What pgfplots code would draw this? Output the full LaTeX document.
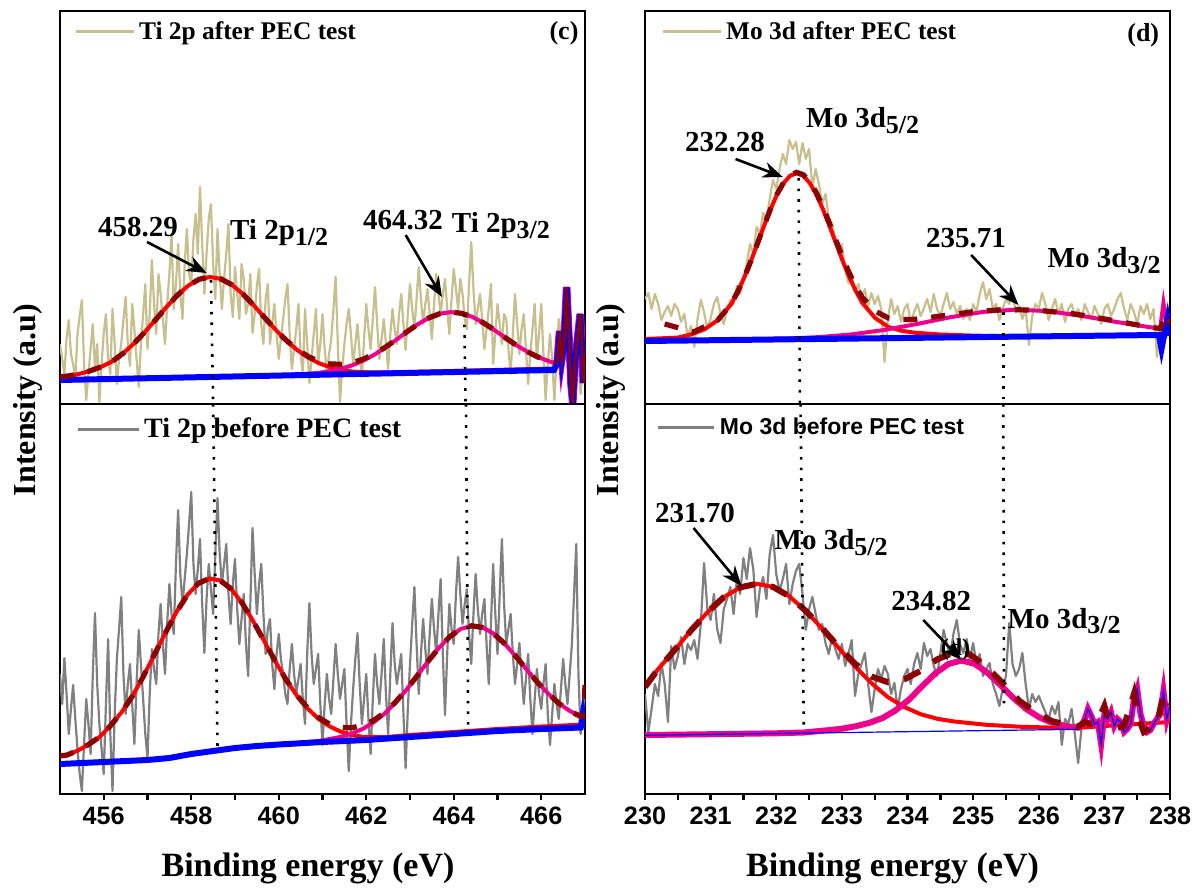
\documentclass[border=0pt]{standalone}
\usepackage{fontspec}
\setmainfont{Liberation Serif}
\newfontfamily\arialf{Liberation Sans}
\usepackage{pgfplots}
\pgfplotsset{compat=1.18}
\usetikzlibrary{arrows.meta}
\definecolor{khaki}{RGB}{199,191,141}
\definecolor{rawgray}{RGB}{128,128,128}
\definecolor{envred}{RGB}{139,0,0}
\newcommand{\ann}{\fontsize{14.5}{16}\selectfont\bfseries}
\newcommand{\sub}[1]{\raisebox{-0.45ex}{\fontsize{13}{14}\selectfont #1}}
\pgfplotsset{
  panel/.style={scale only axis, width=262.5pt, anchor=south west,
    axis line style={line width=1.4pt}, ytick=\empty, ymin=0,
    tick style={line width=1.2pt, black}, major tick length=3pt, minor tick length=3pt,
    tick align=outside, xtick pos=left,
    /pgf/number format/assume math mode=true,
    xticklabel style={font=\fontsize{12.6}{14}\selectfont\arialf\bfseries},
    legend style={draw=none, fill=none, inner sep=0pt, anchor=north west, legend cell align=left},
    legend image code/.code={\draw[##1, line width=1.5pt] (0pt,0pt) -- (29pt,0pt);},
  },
  rawK/.style={color=khaki, line width=1.1pt, line join=round},
  rawG/.style={color=rawgray, line width=1.1pt, line join=round},
  redfit/.style={color=red, line width=2pt, forget plot},
  magfit/.style={color=magenta, line width=2pt, forget plot},
  bluebase/.style={color=blue, line width=3pt, forget plot},
  env/.style={color=envred, line width=2.6pt, dash pattern=on 7pt off 7pt, forget plot},
}
\tikzset{
  dotl/.style={line width=1.3pt, dash pattern=on 1.3pt off 4pt},
  arr/.style={line width=1.3pt, -{Stealth[length=10pt,width=8pt]}},
  annn/.style={font=\ann, inner sep=0pt},
}
\begin{document}
\begin{tikzpicture}
\useasboundingbox (0,0) rectangle (599pt,447.5pt);

%================ TOP LEFT =================
\begin{axis}[panel, at={(30pt,245.5pt)}, height=196.5pt, xmin=455, xmax=467, ymax=393, xtick=\empty,
  legend style={at={(0.026,0.985)}, font=\fontsize{12.7}{14}\selectfont\bfseries}]
\addplot[rawK] coordinates {(455.00,60) (455.05,45) (455.10,30) (455.15,65) (455.20,84) (455.25,50) (455.30,40) (455.35,25) (455.40,70) (455.45,88) (455.50,104) (455.55,40) (455.60,4) (455.65,30) (455.70,55) (455.75,80) (455.80,35) (455.85,60) (455.90,2) (455.95,40) (456.00,71) (456.05,90) (456.10,45) (456.15,30) (456.20,95) (456.25,60) (456.30,20) (456.35,45) (456.40,60) (456.45,85) (456.50,107) (456.55,60) (456.60,38) (456.65,100) (456.70,75) (456.75,45) (456.80,17) (456.85,60) (456.90,90) (456.95,120) (457.00,55) (457.05,90) (457.10,144) (457.15,100) (457.20,70) (457.25,130) (457.30,110) (457.35,85) (457.40,60) (457.45,100) (457.50,130) (457.55,170) (457.60,95) (457.65,120) (457.70,160) (457.75,110) (457.80,85) (457.85,140) (457.90,175) (457.95,130) (458.00,120) (458.05,165) (458.10,190) (458.15,150) (458.20,217) (458.25,160) (458.30,110) (458.35,150) (458.40,185) (458.45,200) (458.50,140) (458.55,105) (458.60,175) (458.65,130) (458.70,95) (458.75,125) (458.80,150) (458.85,180) (458.90,110) (458.95,87) (459.00,137) (459.05,110) (459.10,85) (459.15,140) (459.20,125) (459.25,90) (459.30,100) (459.35,130) (459.40,71) (459.45,90) (459.50,118) (459.55,135) (459.60,80) (459.65,60) (459.70,105) (459.75,120) (459.80,60) (459.85,80) (459.90,100) (459.95,70) (460.00,45) (460.05,65) (460.10,85) (460.15,105) (460.20,120) (460.25,70) (460.30,35) (460.35,55) (460.40,75) (460.45,100) (460.50,50) (460.55,30) (460.60,95) (460.65,60) (460.70,21) (460.75,45) (460.80,70) (460.85,95) (460.90,40) (460.95,60) (461.00,90) (461.05,55) (461.10,30) (461.15,50) (461.20,65) (461.25,95) (461.30,127) (461.35,60) (461.40,2) (461.45,35) (461.50,60) (461.55,80) (461.60,95) (461.65,70) (461.70,40) (461.75,60) (461.80,80) (461.85,50) (461.90,27) (461.95,65) (462.00,100) (462.05,75) (462.10,55) (462.15,85) (462.20,117) (462.25,80) (462.30,45) (462.35,65) (462.40,85) (462.45,60) (462.50,35) (462.55,70) (462.60,95) (462.65,75) (462.70,60) (462.75,90) (462.80,110) (462.85,80) (462.90,54) (462.95,90) (463.00,120) (463.05,95) (463.10,75) (463.15,105) (463.20,137) (463.25,105) (463.30,80) (463.35,100) (463.40,115) (463.45,90) (463.50,65) (463.55,100) (463.60,130) (463.65,110) (463.70,90) (463.75,110) (463.80,125) (463.85,95) (463.90,70) (463.95,105) (464.00,135) (464.05,115) (464.10,95) (464.15,125) (464.20,110) (464.25,85) (464.30,75) (464.35,120) (464.40,162) (464.45,115) (464.50,80) (464.55,95) (464.60,110) (464.65,85) (464.70,55) (464.75,75) (464.80,95) (464.85,120) (464.90,40) (464.95,70) (465.00,100) (465.05,80) (465.10,60) (465.15,90) (465.20,85) (465.25,55) (465.30,30) (465.35,70) (465.40,110) (465.45,80) (465.50,50) (465.55,75) (465.60,90) (465.65,55) (465.70,20) (465.75,50) (465.80,75) (465.85,100) (465.90,45) (465.95,70) (466.00,100) (466.05,50) (466.10,4) (466.15,40) (466.20,70) (466.25,45) (466.30,4) (466.35,45) (466.40,85) (466.45,70) (466.50,50) (466.55,80) (466.60,95) (466.65,60) (466.70,30) (466.75,55) (466.80,75) (466.85,40) (466.90,10) (466.95,35) (467.00,60)};
\addlegendentry{Ti 2p after PEC test}
\addplot[redfit] coordinates {(455.00,27) (455.18,28) (455.43,30) (455.68,33) (455.93,37) (456.18,42.2) (456.43,50.2) (456.68,60) (456.93,71.5) (457.18,84) (457.43,96.8) (457.68,108.7) (457.93,118.3) (458.18,124.7) (458.43,127) (458.68,125.1) (458.93,119.2) (459.18,110) (459.43,98.6) (459.68,86.2) (459.93,74.2) (460.18,63.1) (460.43,53.7) (460.68,46.2) (460.93,40.6) (461.18,36.7) (461.43,34.1) (461.68,32.5) (461.93,31.8) (462.43,31.5) (464,33) (466.3,35.5)};
\addplot[magfit] coordinates {(455,24) (458,26.7) (460.43,29.4) (460.93,31.2) (461.18,32.9) (461.43,35.3) (461.68,38.7) (461.93,43.4) (462.18,49.2) (462.43,56.2) (462.68,64) (462.93,72.1) (463.18,79.8) (463.43,86.1) (463.68,90.3) (463.93,91.9) (464.18,90.7) (464.43,87) (464.68,81.1) (464.93,73.9) (465.18,66.2) (465.43,58.8) (465.68,52.3) (465.93,46.9) (466.18,42.7) (466.3,41)};
\addplot[color=magenta, line width=3.8pt, forget plot] coordinates {(466.36,40) (466.42,73) (466.47,45) (466.52,60) (466.58,117) (466.63,70) (466.68,20) (466.72,1) (466.77,40) (466.84,70) (466.89,90) (466.93,60) (466.96,21) (467,50)};
\addplot[bluebase] coordinates {(455,24) (466.29,34) (466.36,40) (466.42,73) (466.47,45) (466.52,60) (466.58,117) (466.63,70) (466.68,20) (466.72,1) (466.77,40) (466.84,70) (466.89,90) (466.93,60) (466.96,21) (467,50)};
\addplot[color=envred, line width=1.4pt, forget plot] coordinates {(466.36,40) (466.42,73) (466.47,45) (466.52,60) (466.58,117) (466.63,70) (466.68,20) (466.72,1) (466.77,40) (466.84,70) (466.89,90) (466.93,60) (466.96,21) (467,50)};
\addplot[env] coordinates {(455,27) (455.18,28) (455.43,30) (455.68,33) (455.93,37) (456.18,42.2) (456.43,50.2) (456.68,60) (456.93,71.5) (457.18,84) (457.43,96.8) (457.68,108.7) (457.93,118.3) (458.18,124.7) (458.43,127) (458.68,125.1) (458.93,119.2) (459.18,110) (459.43,98.6) (459.68,86.2) (459.93,74.2) (460.18,63.3) (460.43,54.3) (460.68,47.3) (460.93,42.6) (461.18,40.1) (461.43,39.7) (461.68,41.3) (461.93,44.8) (462.18,50) (462.43,56.6) (462.68,64.2) (462.93,72.2) (463.18,79.8) (463.43,86.1) (463.68,90.3) (463.93,91.9) (464.18,90.7) (464.43,87) (464.68,81.1) (464.93,73.9) (465.18,66.2) (465.43,58.8) (465.68,52.3) (465.93,46.9) (466.18,42.7) (466.3,41)};
\draw[dotl] (axis cs:458.45,124) -- (axis cs:458.5,0);
\draw[dotl] (axis cs:464.24,90) -- (axis cs:464.27,0);
\node[annn, anchor=base] at (axis cs:456.78,167) {458.29};
\node[annn, anchor=base west] at (axis cs:458.88,164) {Ti 2p\sub{1/2}};
\draw[arr] (axis cs:456.99,162) -- (axis cs:458.35,131);
\node[annn, anchor=base] at (axis cs:462.84,174) {464.32};
\node[annn, anchor=base west] at (axis cs:463.95,171) {Ti 2p\sub{3/2}};
\draw[arr] (axis cs:462.9,169) -- (axis cs:463.73,107);
\node[font=\fontsize{13}{14}\selectfont\bfseries] at (rel axis cs:0.96,0.944) {(c)};
\end{axis}

%================ BOTTOM LEFT =================
\begin{axis}[panel, at={(30pt,50.5pt)}, height=195pt, xmin=455, xmax=467, ymax=390,
  xtick={456,458,...,466}, minor x tick num=1,
  legend style={at={(0.03,0.975)}, font=\fontsize{14}{15}\selectfont\bfseries},
  legend image code/.code={\draw[#1, line width=1.5pt] (0pt,0pt) -- (30.5pt,0pt);}]
\addplot[rawG] coordinates {(455.00,120) (455.05,90) (455.10,136) (455.15,100) (455.20,60) (455.25,85) (455.30,109) (455.35,75) (455.40,45) (455.45,20) (455.50,3) (455.55,50) (455.60,95) (455.65,70) (455.70,40) (455.75,120) (455.80,181) (455.85,110) (455.90,70) (455.95,45) (456.00,20) (456.05,90) (456.10,155) (456.15,60) (456.20,3) (456.25,80) (456.30,135) (456.35,165) (456.40,197) (456.45,120) (456.50,80) (456.55,110) (456.60,130) (456.65,90) (456.70,50) (456.75,110) (456.80,164) (456.85,130) (456.90,95) (456.95,60) (457.00,36) (457.05,100) (457.10,145) (457.15,125) (457.20,110) (457.25,160) (457.30,190) (457.35,150) (457.40,120) (457.45,170) (457.50,210) (457.55,180) (457.60,160) (457.65,230) (457.70,284) (457.75,220) (457.80,190) (457.85,215) (457.90,240) (457.95,270) (458.00,302) (458.05,230) (458.10,200) (458.15,225) (458.20,255) (458.25,190) (458.30,141) (458.35,195) (458.40,230) (458.45,205) (458.50,180) (458.55,240) (458.60,296) (458.65,240) (458.70,210) (458.75,230) (458.80,250) (458.85,200) (458.90,170) (458.95,210) (459.00,235) (459.05,185) (459.10,150) (459.15,175) (459.20,200) (459.25,150) (459.30,118) (459.35,190) (459.40,266) (459.45,220) (459.50,180) (459.55,210) (459.60,230) (459.65,180) (459.70,140) (459.75,165) (459.80,175) (459.85,130) (459.90,105) (459.95,140) (460.00,160) (460.05,135) (460.10,120) (460.15,100) (460.20,90) (460.25,125) (460.30,150) (460.35,120) (460.40,100) (460.45,115) (460.50,130) (460.55,95) (460.60,70) (460.65,140) (460.70,191) (460.75,140) (460.80,110) (460.85,125) (460.90,140) (460.95,90) (461.00,49) (461.05,90) (461.10,120) (461.15,95) (461.20,80) (461.25,115) (461.30,150) (461.35,120) (461.40,95) (461.45,110) (461.50,125) (461.55,70) (461.60,23) (461.65,70) (461.70,105) (461.75,135) (461.80,161) (461.85,110) (461.90,70) (461.95,95) (462.00,120) (462.05,75) (462.10,40) (462.15,95) (462.20,140) (462.25,110) (462.30,90) (462.35,120) (462.40,155) (462.45,100) (462.50,60) (462.55,120) (462.60,171) (462.65,130) (462.70,110) (462.75,125) (462.80,140) (462.85,80) (462.90,26) (462.95,85) (463.00,130) (463.05,170) (463.10,207) (463.15,150) (463.20,100) (463.25,140) (463.30,175) (463.35,145) (463.40,120) (463.45,160) (463.50,195) (463.55,165) (463.60,140) (463.65,180) (463.70,215) (463.75,140) (463.80,79) (463.85,140) (463.90,190) (463.95,165) (464.00,150) (464.05,200) (464.10,237) (464.15,200) (464.20,170) (464.25,190) (464.30,205) (464.35,160) (464.40,130) (464.45,180) (464.50,220) (464.55,185) (464.60,160) (464.65,180) (464.70,195) (464.75,150) (464.80,110) (464.85,170) (464.90,230) (464.95,180) (465.00,140) (465.05,200) (465.10,255) (465.15,190) (465.20,150) (465.25,165) (465.30,180) (465.35,140) (465.40,110) (465.45,130) (465.50,151) (465.55,120) (465.60,90) (465.65,115) (465.70,140) (465.75,95) (465.80,60) (465.85,95) (465.90,125) (465.95,100) (466.00,85) (466.05,110) (466.10,130) (466.15,80) (466.20,49) (466.25,80) (466.30,110) (466.35,90) (466.40,75) (466.45,105) (466.50,135) (466.55,110) (466.60,90) (466.65,120) (466.70,150) (466.75,200) (466.80,250) (466.85,120) (466.90,60) (466.95,80) (467.00,100)};
\addlegendentry{Ti 2p before PEC test}
\addplot[redfit] coordinates {(455,38) (455.16,39) (455.41,43.5) (455.66,49.7) (455.91,57.2) (456.16,68.6) (456.41,81.9) (456.66,98.2) (456.91,118) (457.16,139.6) (457.41,161.2) (457.66,181.8) (457.91,199) (458.16,210.6) (458.41,215.5) (458.66,213.6) (458.91,205.2) (459.16,191.1) (459.41,173.2) (459.66,153.5) (459.91,133.5) (460.16,114.8) (460.41,98.6) (460.66,85.5) (460.91,75.2) (461.16,67.7) (461.41,62.5) (461.66,59.2) (461.91,57.2) (462.41,56.8) (463,59) (464,62) (465,65) (466,67.5) (467,69.5)};
\addplot[magfit] coordinates {(455,30) (456,32) (457,34) (457.5,36) (458,40) (458.5,43) (459,46) (459.5,48) (460,49.5) (460.41,50.8) (460.91,53) (461.41,57) (461.66,60.4) (461.91,64.9) (462.16,71.4) (462.41,80) (462.66,91) (462.91,103.8) (463.16,118) (463.41,132.5) (463.66,146.1) (463.91,157.4) (464.16,165.1) (464.41,168.2) (464.66,166.6) (464.91,160.4) (465.16,150.4) (465.41,138.1) (465.66,124.8) (465.91,111.9) (466.16,100.3) (466.41,90.4) (466.66,82.9) (466.91,77.3) (467,75.5)};
\addplot[bluebase] coordinates {(455,30) (456,32) (457,34) (457.5,36) (458,40) (458.5,43) (459,46) (459.5,48) (460,49.5) (461,52) (462,54) (463,57) (464,60) (465,63) (466,65) (466.9,66.5) (466.95,80) (467,66)};
\addplot[env] coordinates {(455,38) (455.16,39) (455.41,43.5) (455.66,49.7) (455.91,57.2) (456.16,68.6) (456.41,81.9) (456.66,98.2) (456.91,118) (457.16,139.6) (457.41,161.2) (457.66,181.8) (457.91,199) (458.16,210.6) (458.41,215.5) (458.66,213.6) (458.91,205.2) (459.16,191.1) (459.41,173.2) (459.66,153.5) (459.91,133.5) (460.16,114.8) (460.41,98.9) (460.66,86.1) (460.91,76.4) (461.16,70) (461.41,66.5) (461.66,66.3) (461.91,68.3) (462.16,73.4) (462.41,81) (462.66,91.5) (462.91,104) (463.16,118) (463.41,132.5) (463.66,146.1) (463.91,157.4) (464.16,165.1) (464.41,168.2) (464.66,166.6) (464.91,160.4) (465.16,150.4) (465.41,138.1) (465.66,124.8) (465.91,111.9) (466.16,100.3) (466.41,90.4) (466.66,82.9) (466.91,77.3) (466.97,78) (467,109)};
\draw[dotl] (axis cs:458.5,390) -- (axis cs:458.6,46);
\draw[dotl] (axis cs:464.28,390) -- (axis cs:464.33,61);
\end{axis}

%================ TOP RIGHT =================
\begin{axis}[panel, at={(322.5pt,245.5pt)}, height=196.5pt, xmin=230, xmax=238, ymax=393, xtick=\empty,
  legend style={at={(0.03,0.985)}, font=\fontsize{12.7}{14}\selectfont\bfseries}]
\addplot[rawK] coordinates {(230.00,105) (230.05,111) (230.10,95) (230.15,110) (230.20,100) (230.25,84) (230.30,92) (230.35,98) (230.40,88) (230.45,100) (230.50,95) (230.55,82) (230.60,90) (230.65,67) (230.70,78) (230.75,57) (230.80,85) (230.85,104) (230.90,92) (230.95,75) (231.00,86) (231.05,100) (231.10,107) (231.15,90) (231.20,80) (231.25,95) (231.30,104) (231.35,100) (231.40,118) (231.45,110) (231.50,124) (231.55,140) (231.60,160) (231.65,150) (231.70,177) (231.75,170) (231.80,191) (231.85,185) (231.90,205) (231.95,224) (232.00,215) (232.05,235) (232.10,250) (232.15,240) (232.20,264) (232.25,255) (232.30,262) (232.35,240) (232.40,261) (232.45,245) (232.50,255) (232.55,217) (232.60,235) (232.65,220) (232.70,200) (232.75,210) (232.80,187) (232.85,180) (232.90,165) (232.95,150) (233.00,160) (233.05,135) (233.10,121) (233.15,130) (233.20,112) (233.25,120) (233.30,105) (233.35,115) (233.40,98) (233.45,111) (233.50,100) (233.55,108) (233.60,95) (233.65,42) (233.70,85) (233.75,105) (233.80,90) (233.85,98) (233.90,82) (233.95,95) (234.00,100) (234.05,81) (234.10,92) (234.15,100) (234.20,88) (234.25,96) (234.30,105) (234.35,92) (234.40,110) (234.45,95) (234.50,88) (234.55,100) (234.60,111) (234.65,95) (234.70,102) (234.75,90) (234.80,98) (234.85,85) (234.90,95) (234.95,84) (235.00,100) (235.05,92) (235.10,110) (235.15,122) (235.20,105) (235.25,115) (235.30,95) (235.35,100) (235.40,84) (235.45,95) (235.50,105) (235.55,100) (235.60,110) (235.65,92) (235.70,98) (235.75,85) (235.80,95) (235.85,59) (235.90,88) (235.95,100) (236.00,95) (236.05,111) (236.10,100) (236.15,84) (236.20,95) (236.25,105) (236.30,90) (236.35,100) (236.40,82) (236.45,95) (236.50,100) (236.55,88) (236.60,95) (236.65,84) (236.70,100) (236.75,92) (236.80,85) (236.85,98) (236.90,90) (236.95,80) (237.00,95) (237.05,100) (237.10,88) (237.15,95) (237.20,105) (237.25,111) (237.30,95) (237.35,84) (237.40,100) (237.45,92) (237.50,80) (237.55,98) (237.60,90) (237.65,100) (237.70,85) (237.75,95) (237.80,47) (237.85,80) (237.90,95) (237.95,85) (238.00,90)};
\addlegendentry{Mo 3d after PEC test}
\addplot[redfit] coordinates {(230,65) (230.5,66.4) (230.71,69.7) (230.91,74.8) (231.11,84) (231.31,99.6) (231.41,111.9) (231.51,126.2) (231.61,142.3) (231.71,159.7) (231.81,177.4) (231.91,194.3) (232.01,209.2) (232.11,220.7) (232.21,228.2) (232.31,230.8) (232.41,228.4) (232.51,221) (232.61,209.6) (232.71,194.9) (232.81,178.2) (232.91,160.7) (233.01,143.4) (233.11,127.4) (233.21,113.3) (233.31,101.2) (233.51,85.8) (233.71,77) (233.91,73.2) (234.11,71.3) (234.5,69.5) (235,68.4) (235.5,67.8) (236.5,68.3) (237.85,69.5)};
\addplot[magfit] coordinates {(230,63.5) (231.15,64) (232.15,65.4) (232.65,66.9) (233.15,69.6) (233.65,74.1) (234.15,80.1) (234.65,86.7) (235.15,92.1) (235.65,94.4) (236.15,92.8) (236.65,88.2) (237.15,82.4) (237.65,77.2) (237.85,75.4) (237.9,101) (237.95,80) (238,70)};
\addplot[bluebase] coordinates {(230,63) (237.83,69) (237.87,55) (237.92,72) (237.96,85) (238,68)};
\addplot[env] coordinates {(230.3,80) (230.74,72) (231.11,84) (231.31,99.7) (231.41,112) (231.51,126.3) (231.61,142.4) (231.71,159.9) (231.81,177.6) (231.91,194.6) (232.01,209.7) (232.11,221.3) (232.21,228.9) (232.31,231.6) (232.41,229.3) (232.51,222.5) (232.61,211.3) (232.71,197) (232.81,180.7) (232.91,163.6) (233.01,146.8) (233.11,131.3) (233.21,117.8) (233.31,106.6) (233.51,92.8) (233.71,85.9) (233.91,84.4) (234.11,84.7) (234.5,87.9) (235,92.3) (235.5,94.6) (236,93.6) (236.5,90.5) (237,85.1) (237.5,79.1) (237.85,75.4) (237.95,90) (238,80)};
\draw[dotl] (axis cs:232.34,226) -- (axis cs:232.36,0);
\draw[dotl] (axis cs:235.46,92) -- (axis cs:235.46,0);
\node[annn, anchor=base] at (axis cs:231.22,252) {232.28};
\node[annn, anchor=base west] at (axis cs:232.45,276) {Mo 3d\sub{5/2}};
\draw[arr] (axis cs:231.38,245) -- (axis cs:232.1,227);
\node[annn, anchor=base] at (axis cs:234.89,156) {235.71};
\node[annn, anchor=base west] at (axis cs:236.13,136) {Mo 3d\sub{3/2}};
\draw[arr] (axis cs:234.97,149) -- (axis cs:235.69,99);
\node[font=\fontsize{13}{14}\selectfont\bfseries] at (rel axis cs:0.949,0.939) {(d)};
\end{axis}

%================ BOTTOM RIGHT =================
\begin{axis}[panel, at={(322.5pt,50.5pt)}, height=195pt, xmin=230, xmax=238, ymax=390,
  xtick={230,...,238}, minor x tick num=1,
  legend style={at={(0.022,0.975)}, font=\fontsize{11.5}{13}\selectfont\arialf\bfseries},
  legend image code/.code={\draw[#1, line width=1.5pt] (0pt,0pt) -- (28pt,0pt);}]
\addplot[rawG] coordinates {(230.00,100) (230.05,62) (230.10,85) (230.15,110) (230.20,98) (230.25,131) (230.30,110) (230.35,72) (230.40,148) (230.45,125) (230.50,138) (230.55,157) (230.60,130) (230.65,150) (230.70,144) (230.75,154) (230.80,135) (230.85,170) (230.90,231) (230.95,185) (231.00,174) (231.05,200) (231.10,165) (231.15,151) (231.20,185) (231.25,195) (231.30,207) (231.35,180) (231.40,215) (231.45,200) (231.50,236) (231.55,215) (231.60,246) (231.65,225) (231.70,177) (231.75,205) (231.80,217) (231.85,195) (231.90,240) (231.95,259) (232.00,220) (232.05,203) (232.10,215) (232.15,230) (232.20,190) (232.25,210) (232.30,223) (232.35,230) (232.40,200) (232.45,164) (232.50,185) (232.55,197) (232.60,180) (232.65,164) (232.70,170) (232.75,151) (232.80,140) (232.85,157) (232.90,145) (232.95,135) (233.00,150) (233.05,128) (233.10,140) (233.15,154) (233.20,98) (233.25,120) (233.30,130) (233.35,141) (233.40,110) (233.45,82) (233.50,105) (233.55,125) (233.60,115) (233.65,128) (233.70,120) (233.75,100) (233.80,111) (233.85,85) (233.90,105) (233.95,118) (234.00,125) (234.05,110) (234.10,130) (234.15,141) (234.20,125) (234.25,151) (234.30,138) (234.35,145) (234.40,128) (234.45,118) (234.50,140) (234.55,164) (234.60,150) (234.65,138) (234.70,160) (234.75,174) (234.80,150) (234.85,141) (234.90,155) (234.95,135) (235.00,151) (235.05,130) (235.10,140) (235.15,118) (235.20,125) (235.25,131) (235.30,110) (235.35,100) (235.40,88) (235.45,105) (235.50,118) (235.55,171) (235.60,130) (235.65,118) (235.70,125) (235.75,141) (235.80,110) (235.85,85) (235.90,100) (235.95,92) (236.00,98) (236.05,90) (236.10,82) (236.15,75) (236.20,88) (236.25,80) (236.30,92) (236.35,49) (236.40,75) (236.45,70) (236.50,85) (236.55,60) (236.60,31) (236.65,65) (236.70,72)};
\addlegendentry{Mo 3d before PEC test}
\addplot[redfit] coordinates {(230,109) (230.2,124.9) (230.45,143.9) (230.7,163.4) (230.95,181.7) (231.2,196.8) (231.45,206.6) (231.7,210.2) (231.95,207.1) (232.2,197.7) (232.45,183) (232.7,165.3) (232.95,146.2) (233.2,127.6) (233.45,110.9) (233.7,96.9) (233.95,87) (234.2,79.8) (234.45,75.3) (234.7,72.6) (235.2,69.2) (235.7,67.3) (236.2,66.4) (236.6,66.2) (237,68) (237.5,70) (238,72)};
\addplot[color=magenta, line width=3pt, forget plot] coordinates {(230,59) (231,59.8) (232,60.7) (232.42,61.5) (232.82,64) (233.02,65.5) (233.22,67.9) (233.42,71.2) (233.62,76) (233.82,83.7) (234.02,94.2) (234.22,107.6) (234.42,120.4) (234.62,129.9) (234.82,133.5) (235.02,130.3) (235.22,121.2) (235.42,108.6) (235.62,95.6) (235.82,84.5) (236.02,76.2) (236.22,70.8) (236.42,67.8) (236.6,66.3) (236.65,68) (236.7,75) (236.75,85) (236.8,78) (236.85,70) (236.9,72) (236.95,50) (237.0,80) (237.05,75) (237.1,82) (237.15,68) (237.2,75) (237.25,72) (237.3,62) (237.35,65) (237.4,70) (237.45,95) (237.5,105) (237.55,80) (237.6,68) (237.65,62) (237.7,64) (237.75,70) (237.8,75) (237.85,80) (237.9,103) (237.95,75) (238,88)};
\addplot[color=blue, line width=0.6pt, forget plot] coordinates {(230,58.7) (236.6,64.7) (236.65,68) (236.7,75) (236.75,85) (236.8,78) (236.85,70) (236.9,72) (236.95,50) (237.0,80) (237.05,75) (237.1,82) (237.15,68) (237.2,75) (237.25,72) (237.3,62) (237.35,65) (237.4,70) (237.45,95) (237.5,105) (237.55,80) (237.6,68) (237.65,62) (237.7,64) (237.75,70) (237.8,75) (237.85,80) (237.9,103) (237.95,75) (238,88)};
\addplot[env, line width=3pt, dash pattern=on 9pt off 8pt] coordinates {(230,107) (230.2,124.9) (230.45,143.9) (230.7,163.4) (230.95,181.7) (231.2,196.8) (231.45,206.6) (231.7,210.2) (231.95,207.1) (232.2,197.7) (232.45,183.1) (232.7,165.7) (232.95,147.1) (233.2,130.3) (233.45,117.5) (233.7,111.8) (233.95,114.6) (234.2,123.1) (234.45,134.6) (234.7,141.3) (234.95,139.5) (235.2,127.6) (235.45,110.8) (235.7,93.4) (235.95,81.6) (236.2,72.9) (236.45,68.8) (236.6,67.4) (236.7,72) (236.8,70) (236.9,73) (237.0,88) (237.05,76) (237.1,70) (237.2,66) (237.3,68) (237.45,100) (237.5,80) (237.6,62) (237.7,66) (237.8,70) (237.9,100) (238,90)};
\draw[dotl] (axis cs:232.37,390) -- (axis cs:232.42,63);
\draw[dotl] (axis cs:235.46,390) -- (axis cs:235.47,88);
\node[annn, anchor=base] at (axis cs:230.76,271) {231.70};
\node[annn, anchor=base west] at (axis cs:231.97,244.6) {Mo 3d\sub{5/2}};
\draw[arr] (axis cs:230.74,266) -- (axis cs:231.47,208);
\node[annn, anchor=base] at (axis cs:234.36,184) {234.82};
\node[annn, anchor=base west] at (axis cs:235.52,166) {Mo 3d\sub{3/2}};
\draw[arr] (axis cs:234.24,174) -- (axis cs:234.82,134);
\node[font=\fontsize{12}{13}\selectfont\bfseries] at (axis cs:234.73,144) {(d)};
\end{axis}

%================ LABELS =================
\node[font=\fontsize{17}{20}\selectfont\bfseries, anchor=base] at (154pt,9.5pt) {Binding energy (eV)};
\node[font=\fontsize{17}{20}\selectfont\bfseries, anchor=base] at (446.25pt,9.5pt) {Binding energy (eV)};
\node[font=\fontsize{16}{18}\selectfont\bfseries, rotate=90] at (14pt,247.5pt) {Intensity (a.u)};
\node[font=\fontsize{16}{18}\selectfont\bfseries, rotate=90] at (305.5pt,247.5pt) {Intensity (a.u)};
\end{tikzpicture}
\end{document}
